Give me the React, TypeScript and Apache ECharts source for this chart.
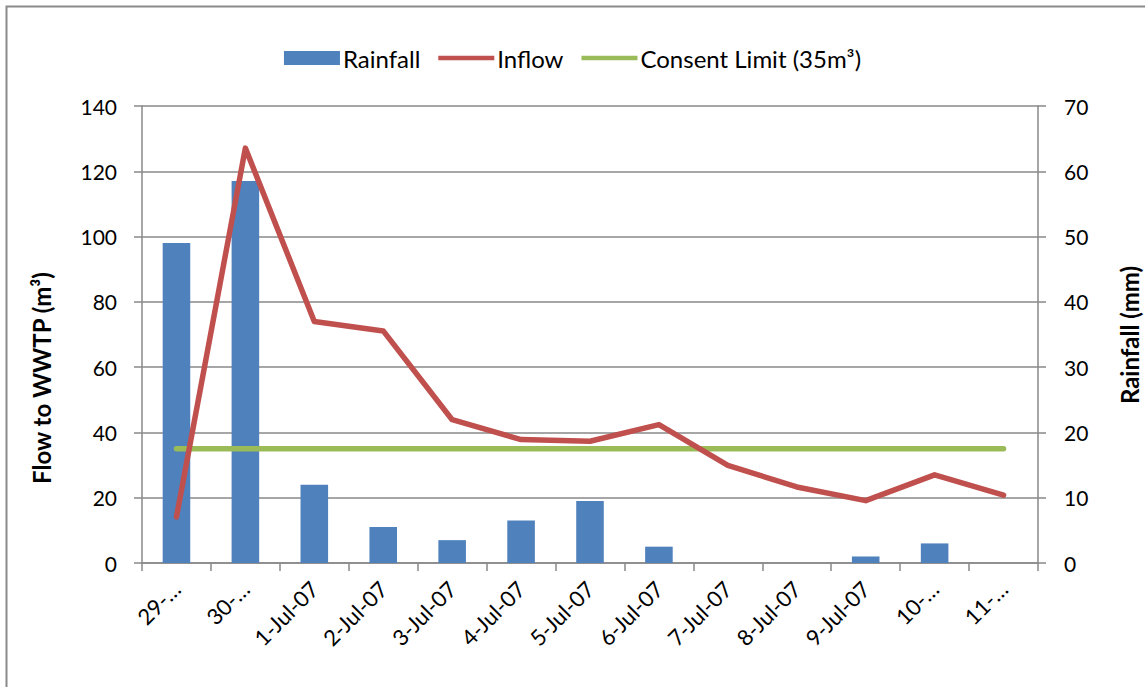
import React, { useEffect, useRef } from "react";
import * as echarts from "echarts";

const categories = [
  "29-Jun-07", "30-Jun-07", "1-Jul-07", "2-Jul-07", "3-Jul-07", "4-Jul-07", "5-Jul-07",
  "6-Jul-07", "7-Jul-07", "8-Jul-07", "9-Jul-07", "10-Jul-07", "11-Jul-07",
];
const rainfall = [49, 58.5, 12, 5.5, 3.5, 6.5, 9.5, 2.5, 0, 0, 1, 3, 0];
const inflow = [14.1, 127.1, 74, 71.1, 43.9, 37.8, 37.3, 42.4, 29.9, 23.3, 19.1, 27, 20.8];
const consentLimit = [35, 35, 35, 35, 35, 35, 35, 35, 35, 35, 35, 35, 35];
const leftTicks = { min: 0, max: 140, interval: 20 };
const rightTicks = { min: 0, max: 70, interval: 10 };
const leftTitle = "Flow to WWTP (m³)";
const rightTitle = "Rainfall (mm)";

const FONT = "Lato";
const GRID_COLOR = "#898989";
const LINE_ICON = "path://M0,0 L60,0 L60,5 L0,5 Z";

export default function App() {
  const ref = useRef<HTMLDivElement>(null);
  useEffect(() => {
    if (!ref.current) return;
    const chart = echarts.init(ref.current, null, { renderer: "svg" });
    const truncate = (v: string) => (/^\d\d-/.test(v) ? v.slice(0, 3) + "…" : v);
    chart.setOption({
      animation: false,
      textStyle: { fontFamily: FONT },
      graphic: [
        {
          type: "rect",
          shape: { x: 6.5, y: 6.5, width: 1200, height: 800 },
          style: { fill: "none", stroke: "#8a8a8a", lineWidth: 2 },
          silent: true,
        },
        {
          type: "text",
          x: 41,
          y: 378,
          rotation: Math.PI / 2,
          style: {
            text: leftTitle,
            font: `bold 24px ${FONT}`,
            fill: "#000",
            align: "center",
            verticalAlign: "middle",
          },
        },
        {
          type: "text",
          x: 1129,
          y: 335,
          rotation: Math.PI / 2,
          style: {
            text: rightTitle,
            font: `bold 24px ${FONT}`,
            fill: "#000",
            align: "center",
            verticalAlign: "middle",
          },
        },
      ],
      legend: {
        top: 41,
        left: "center",
        itemWidth: 56,
        itemHeight: 14,
        itemGap: 18,
        textStyle: { fontFamily: FONT, fontSize: 24, color: "#000", padding: [0, 0, 0, -2] },
        data: [
          { name: "Rainfall", icon: "rect" },
          { name: "Inflow", icon: LINE_ICON },
          { name: "Consent Limit (35m³)", icon: LINE_ICON },
        ],
      },
      grid: { left: 142, right: 107, top: 106, bottom: 124 },
      xAxis: {
        type: "category",
        data: categories,
        boundaryGap: true,
        axisLine: { lineStyle: { color: GRID_COLOR, width: 1.5 } },
        axisTick: { show: true, alignWithLabel: false, length: 8, lineStyle: { color: GRID_COLOR, width: 1.5 } },
        axisLabel: {
          rotate: 45,
          interval: 0,
          margin: 22,
          fontFamily: FONT,
          fontSize: 22,
          color: "#000",
          formatter: truncate,
        },
      },
      yAxis: [
        {
          type: "value",
          ...leftTicks,
          axisLine: { show: true, lineStyle: { color: GRID_COLOR, width: 1.5 } },
          axisTick: { show: true, length: 8, lineStyle: { color: GRID_COLOR, width: 1.5 } },
          axisLabel: { margin: 25, fontFamily: FONT, fontSize: 21, color: "#000" },
          splitLine: { show: true, lineStyle: { color: GRID_COLOR, width: 1.5 } },
        },
        {
          type: "value",
          ...rightTicks,
          position: "right",
          axisLine: { show: true, lineStyle: { color: GRID_COLOR, width: 1.5 } },
          axisTick: { show: true, length: 8, lineStyle: { color: GRID_COLOR, width: 1.5 } },
          axisLabel: { margin: 26, fontFamily: FONT, fontSize: 21, color: "#000" },
          splitLine: { show: false },
        },
      ],
      series: [
        {
          name: "Rainfall",
          type: "bar",
          yAxisIndex: 1,
          data: rainfall,
          barWidth: "40%",
          itemStyle: { color: "#4F81BD" },
        },
        {
          name: "Inflow",
          type: "line",
          yAxisIndex: 0,
          data: inflow,
          symbol: "none",
          lineStyle: { color: "#C0504D", width: 5.5, cap: "round", join: "round" },
          itemStyle: { color: "#C0504D" },
          z: 3,
        },
        {
          name: "Consent Limit (35m³)",
          type: "line",
          yAxisIndex: 0,
          data: consentLimit,
          symbol: "none",
          lineStyle: { color: "#9BBB59", width: 5.5, cap: "round" },
          itemStyle: { color: "#9BBB59" },
          z: 2,
        },
      ],
    });
    return () => chart.dispose();
  }, []);
  return (
    <div
      ref={ref}
      style={{ position: "fixed", left: 0, top: 0, width: 1145, height: 687, background: "#fff" }}
    />
  );
}
